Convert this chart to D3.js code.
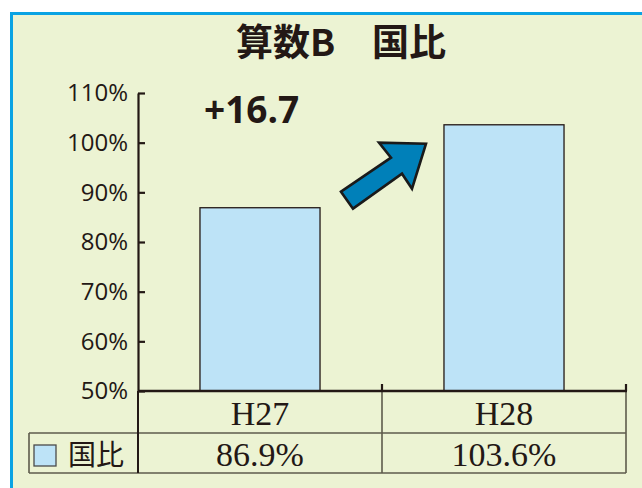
<!DOCTYPE html>
<html><head><meta charset="utf-8">
<script src="https://cdn.jsdelivr.net/npm/d3@7"></script>
<style>html,body{margin:0;padding:0;background:#fff;}svg{display:block;}</style>
</head><body>
<script>
const titleText = "算数B　国比";
const seriesName = "国比";
const categories = ["H27", "H28"];
const values = [86.9, 103.6];
const valueLabels = ["86.9%", "103.6%"];
const yTicks = [50, 60, 70, 80, 90, 100, 110];
const diffLabel = "+16.7";

const W = 642, H = 488;
const ink = "#231815";
const svg = d3.select("body").append("svg").attr("width", W).attr("height", H);

// frame
svg.append("rect").attr("x", 11.5).attr("y", 13.5).attr("width", 700).attr("height", 600)
  .attr("fill", "#ecf3d3").attr("stroke", "#0aa3e3").attr("stroke-width", 3);

const x = d3.scaleBand().domain(categories).range([138, 626]).padding(0);
const y = d3.scaleLinear().domain([50, 110]).range([391, 93]);
const bw = x.bandwidth();

// title
svg.append("text").attr("x", 341).attr("y", 56).attr("text-anchor", "middle")
  .attr("font-family", "'Noto Sans CJK JP', sans-serif").attr("font-weight", 700)
  .attr("font-size", 37).attr("fill", ink).text(titleText);

// bars
svg.selectAll("rect.bar").data(values).join("rect").attr("class", "bar")
  .attr("x", (d, i) => x(categories[i]) + bw * 0.254)
  .attr("width", bw * 0.492)
  .attr("y", d => y(d)).attr("height", d => y(50) - y(d))
  .attr("fill", "#bde3f7").attr("stroke", ink).attr("stroke-width", 1.3);

// y axis
const yAxis = d3.axisLeft(y).tickValues(yTicks).tickFormat(d => d + "%")
  .tickSizeInner(-7).tickSizeOuter(0).tickPadding(10);
const ga = svg.append("g").attr("transform", "translate(138,0)").call(yAxis);
ga.select(".domain").attr("stroke", ink).attr("stroke-width", 2.2);
ga.selectAll(".tick line").attr("stroke", ink).attr("stroke-width", 2.2);
ga.selectAll(".tick text").attr("font-family", "'Open Sans', sans-serif")
  .attr("font-size", 24).attr("fill", ink);

// table grid
const gridC = "#5e5b4c";
const tbl = svg.append("g").attr("stroke", gridC).attr("stroke-width", 1.6);
tbl.append("line").attr("x1", 29).attr("x2", 626).attr("y1", 433).attr("y2", 433);
tbl.append("line").attr("x1", 29).attr("x2", 626).attr("y1", 473).attr("y2", 473);
tbl.append("line").attr("x1", 29).attr("x2", 29).attr("y1", 433).attr("y2", 473);
categories.forEach(c => {
  tbl.append("line").attr("x1", x(c) + bw).attr("x2", x(c) + bw).attr("y1", 391).attr("y2", 473);
});
svg.append("line").attr("x1", 138).attr("x2", 138).attr("y1", 391).attr("y2", 473)
  .attr("stroke", ink).attr("stroke-width", 2);

// baseline + category ticks
svg.append("line").attr("x1", 138).attr("x2", 627).attr("y1", y(50)).attr("y2", y(50))
  .attr("stroke", ink).attr("stroke-width", 2.6);
categories.forEach(c => {
  svg.append("line").attr("x1", x(c) + bw).attr("x2", x(c) + bw).attr("y1", y(50)).attr("y2", y(50) - 7)
    .attr("stroke", ink).attr("stroke-width", 2.2);
});

// table texts
svg.selectAll("text.cat").data(categories).join("text").attr("class", "cat")
  .attr("x", d => x(d) + bw / 2).attr("y", 425).attr("text-anchor", "middle")
  .attr("font-family", "'Liberation Serif', serif").attr("font-size", 34).attr("fill", ink)
  .text(d => d);
svg.selectAll("text.val").data(valueLabels).join("text").attr("class", "val")
  .attr("x", (d, i) => x(categories[i]) + bw / 2).attr("y", 466).attr("text-anchor", "middle")
  .attr("font-family", "'Liberation Serif', serif").attr("font-size", 34).attr("fill", ink)
  .text(d => d);

// legend
svg.append("rect").attr("x", 34).attr("y", 445).attr("width", 22).attr("height", 21)
  .attr("fill", "#bde3f7").attr("stroke", "#4a4a4a").attr("stroke-width", 1.3);
svg.append("text").attr("x", 68).attr("y", 465)
  .attr("font-family", "'Noto Sans CJK JP', sans-serif").attr("font-size", 28).attr("fill", ink)
  .text(seriesName);

// difference label
svg.append("text").attr("x", 204).attr("y", 123)
  .attr("font-family", "'Open Sans', sans-serif").attr("font-weight", 700)
  .attr("font-size", 37).attr("fill", ink).text(diffLabel);

// arrow (annotation) placed between the bars
const ax = x(categories[1]), ay = y(100);
const arrowPts = [[-41, 49], [-29, 66], [20, 31], [30, 46], [44, 1], [-3, 0], [9, 15]];
svg.append("polygon")
  .attr("points", arrowPts.map(p => [ax + p[0], ay + p[1]].join(",")).join(" "))
  .attr("fill", "#0080b9").attr("stroke", "#1a1a1a").attr("stroke-width", 2.6)
  .attr("stroke-linejoin", "miter");
</script>
</body></html>
